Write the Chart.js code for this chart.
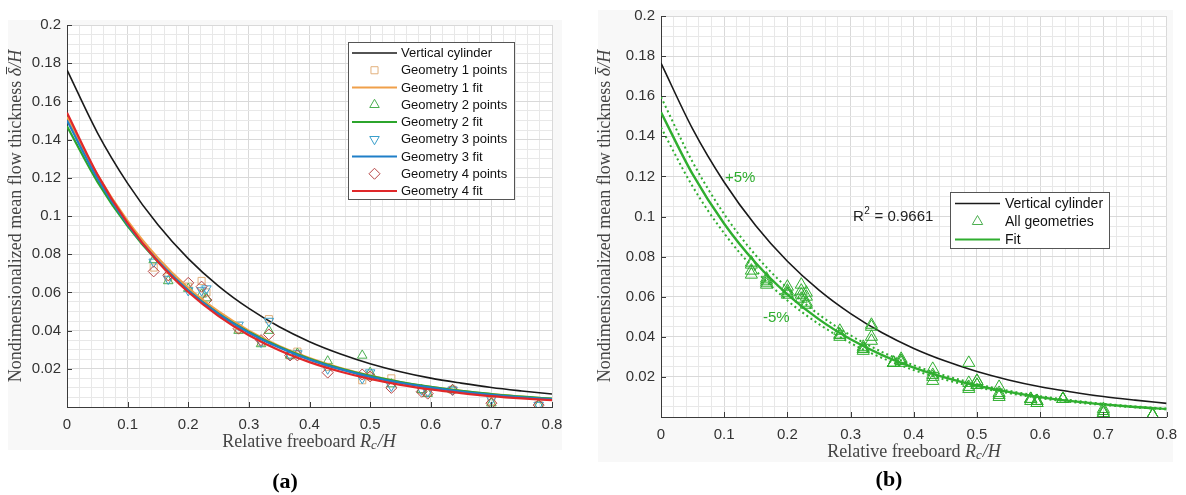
<!DOCTYPE html>
<html>
<head>
<meta charset="utf-8">
<script src="https://cdn.jsdelivr.net/npm/chart.js@4.4.0/dist/chart.umd.min.js"></script>
<style>
html, body { margin: 0; padding: 0; background: #fff; }
#wrap { position: relative; width: 1186px; height: 495px; overflow: hidden; }
#chartA { position: absolute; left: 0; top: 0; }
#chartB { position: absolute; left: 590px; top: 0; }
</style>
</head>
<body>
<div id="wrap">
  <canvas id="chartA" width="590" height="495"></canvas>
  <canvas id="chartB" width="596" height="495"></canvas>
</div>
<script>
// relative freeboard Rc/H used for the curves
const freeboard = [0, 0.05, 0.1, 0.15, 0.2, 0.25, 0.3, 0.35, 0.4, 0.45, 0.5, 0.55, 0.6, 0.65, 0.7, 0.75, 0.8];
const cylinder  = [0.1765, 0.1437, 0.1171, 0.0954, 0.0777, 0.0633, 0.0516, 0.0420, 0.0342, 0.0279, 0.0227, 0.0185, 0.0151, 0.0125, 0.0102, 0.0084, 0.0068];
const fitGeo1   = [0.1520, 0.1217, 0.0974, 0.0780, 0.0624, 0.0500, 0.0400, 0.0320, 0.0256, 0.0205, 0.0164, 0.0131, 0.0105, 0.0084, 0.0067, 0.0054, 0.0043];
const fitGeo2   = [0.1470, 0.1180, 0.0947, 0.0760, 0.0610, 0.0489, 0.0393, 0.0315, 0.0253, 0.0203, 0.0163, 0.0131, 0.0105, 0.0084, 0.0068, 0.0054, 0.0044];
const fitGeo3   = [0.1500, 0.1198, 0.0956, 0.0764, 0.0610, 0.0487, 0.0389, 0.0311, 0.0248, 0.0198, 0.0158, 0.0126, 0.0101, 0.0081, 0.0064, 0.0051, 0.0041];
const fitGeo4   = [0.1540, 0.1218, 0.0963, 0.0761, 0.0602, 0.0476, 0.0376, 0.0297, 0.0235, 0.0186, 0.0147, 0.0116, 0.0092, 0.0073, 0.0057, 0.0045, 0.0036];
const fitAll      = [0.1520, 0.1211, 0.0964, 0.0768, 0.0612, 0.0487, 0.0388, 0.0309, 0.0246, 0.0196, 0.0156, 0.0125, 0.0099, 0.0079, 0.0063, 0.0050, 0.0040];
const fitAllUpper = [0.1596, 0.1272, 0.1012, 0.0806, 0.0643, 0.0511, 0.0407, 0.0324, 0.0258, 0.0206, 0.0164, 0.0131, 0.0104, 0.0083, 0.0066, 0.0053, 0.0042];
const fitAllLower = [0.1444, 0.1150, 0.0916, 0.0730, 0.0581, 0.0463, 0.0369, 0.0294, 0.0234, 0.0186, 0.0148, 0.0119, 0.0094, 0.0075, 0.0060, 0.0048, 0.0038];

// measured points
const testX  = [0.143, 0.167, 0.2, 0.222, 0.23, 0.283, 0.32, 0.333, 0.368, 0.38, 0.43, 0.487, 0.5, 0.535, 0.585, 0.595, 0.636, 0.70, 0.778];
const geo1Y  = [0.073, 0.068, 0.063, 0.066, 0.060, 0.041, 0.034, 0.046, 0.027, 0.029, 0.021, 0.014, 0.016, 0.015, 0.009, 0.008, 0.009, 0.003, 0.001];
const geo2Y  = [0.077, 0.066, 0.062, 0.059, 0.057, 0.040, 0.033, 0.040, 0.027, 0.028, 0.024, 0.027, 0.018, 0.012, 0.009, 0.007, 0.009, 0.002, 0.001];
const geo3Y  = [0.076, 0.067, 0.061, 0.061, 0.062, 0.043, 0.034, 0.045, 0.027, 0.028, 0.020, 0.015, 0.018, 0.011, 0.009, 0.008, 0.009, 0.004, 0.001];
const geo4Y  = [0.071, 0.069, 0.065, 0.063, 0.056, 0.041, 0.035, 0.038, 0.027, 0.027, 0.018, 0.017, 0.016, 0.010, 0.008, 0.007, 0.009, 0.002, 0.001];

const xTickLabels = [0, 0.1, 0.2, 0.3, 0.4, 0.5, 0.6, 0.7, 0.8];
const yTickLabels = [0.02, 0.04, 0.06, 0.08, 0.1, 0.12, 0.14, 0.16, 0.18, 0.2];
const rSquared = '0.9661';

const col = {
    black: '#1a1a1a',
    orange: '#f0a04a', orangeMark: '#e2b07c',
    green: '#2ca52c', greenMark: '#4caf50',
    blue: '#1f7fc8', blueMark: '#3a9fcb',
    red: '#e0282a', redMark: '#b84545',
    fitB: '#2fae2f'
}

const pts = (xs, ys) => xs.map((x, i) => ({ x: x, y: ys[i] }))

function labelFor(v, list) {
    const hit = list.find(t => Math.abs(t - v) < 1e-6)
    return hit === undefined ? '' : String(hit)
}

function gridColor(list) {
    return ctx => (ctx.tick && list.some(t => Math.abs(t - ctx.tick.value) < 1e-6)) ? '#d9d9d9' : '#e8e8e8'
}

function makeScales(yWidth, xHeight) {
    const tickFont = { family: 'Liberation Sans, Arial, sans-serif', size: 15 }
    return {
        x: {
            type: 'linear', min: 0, max: 0.8,
            afterFit: s => { s.height = xHeight },
            ticks: { stepSize: 0.02, autoSkip: false, maxRotation: 0, padding: 9, color: '#333', font: tickFont,
                callback: v => labelFor(v, xTickLabels) },
            grid: { color: gridColor(xTickLabels), drawTicks: false, lineWidth: 1 },
            border: { color: '#3a3a3a', width: 1 }
        },
        y: {
            type: 'linear', min: 0, max: 0.2,
            afterFit: s => { s.width = yWidth },
            ticks: { stepSize: 0.005, autoSkip: false, padding: 6, color: '#333', font: tickFont,
                callback: v => labelFor(v, yTickLabels) },
            grid: { color: gridColor(yTickLabels), drawTicks: false, lineWidth: 1 },
            border: { color: '#3a3a3a', width: 1 }
        }
    }
}

function drawMarker(c, kind, x, y, r, color) {
    c.beginPath()
    if (kind === 'rect') {
        const s = r * Math.SQRT1_2
        c.rect(x - s, y - s, 2 * s, 2 * s)
    } else if (kind === 'triangle') {
        c.moveTo(x, y - r); c.lineTo(x + r * 0.866, y + r / 2); c.lineTo(x - r * 0.866, y + r / 2); c.closePath()
    } else if (kind === 'triangleDown') {
        c.moveTo(x, y + r); c.lineTo(x + r * 0.866, y - r / 2); c.lineTo(x - r * 0.866, y - r / 2); c.closePath()
    } else if (kind === 'rectRot') {
        c.moveTo(x, y - r); c.lineTo(x + r, y); c.lineTo(x, y + r); c.lineTo(x - r, y); c.closePath()
    }
    c.strokeStyle = color
    c.lineWidth = 1
    c.stroke()
}

// text made of pieces (normal / italic / subscript)
function drawPieces(c, pieces, cx, cy) {
    let total = 0
    pieces.forEach(p => { c.font = p.font; p.w = c.measureText(p.t).width; total += p.w + (p.gap || 0) })
    let x = cx - total / 2
    c.textBaseline = 'middle'
    c.textAlign = 'left'
    pieces.forEach(p => {
        c.font = p.font
        c.fillText(p.t, x, cy + (p.dy || 0))
        if (p.bar) {
            c.beginPath()
            c.lineWidth = 1
            c.strokeStyle = c.fillStyle
            c.moveTo(x + 2, cy - 9.5); c.lineTo(x + p.w + 1, cy - 9.5)
            c.stroke()
        }
        x += p.w + (p.gap || 0)
    })
}

function axisTitles(c, cfg) {
    const serif = 'Liberation Serif, Times New Roman, serif'
    const fs = cfg.titleSize
    c.save()
    c.fillStyle = '#444'
    drawPieces(c, [
        { t: 'Relative freeboard ', font: fs + 'px ' + serif },
        { t: 'R', font: 'italic ' + fs + 'px ' + serif },
        { t: 'c', font: 'italic ' + Math.round(fs * 0.72) + 'px ' + serif, dy: 4, gap: 1 },
        { t: '/H', font: 'italic ' + fs + 'px ' + serif }
    ], cfg.xTitle[0], cfg.xTitle[1])
    c.translate(cfg.yTitle[0], cfg.yTitle[1])
    c.rotate(-Math.PI / 2)
    drawPieces(c, [
        { t: 'Nondimensionalized mean flow thickness ', font: fs + 'px ' + serif },
        { t: 'δ', font: 'italic ' + fs + 'px ' + serif, bar: true },
        { t: '/H', font: 'italic ' + fs + 'px ' + serif }
    ], 0, 0)
    c.restore()
}

function drawLegend(c, lg) {
    c.save()
    c.fillStyle = '#fff'
    c.fillRect(lg.x, lg.y, lg.w, lg.h)
    c.strokeStyle = '#555'
    c.lineWidth = 1
    c.strokeRect(lg.x + 0.5, lg.y + 0.5, lg.w, lg.h)
    c.font = lg.font + 'px Liberation Sans, Arial, sans-serif'
    c.textBaseline = 'middle'
    c.textAlign = 'left'
    lg.items.forEach((it, i) => {
        const y = lg.first + i * lg.rowH
        if (it.line) {
            c.beginPath()
            c.strokeStyle = it.line
            c.lineWidth = it.width || 2
            c.moveTo(lg.x0, y); c.lineTo(lg.x1, y)
            c.stroke()
        } else {
            drawMarker(c, it.mark, (lg.x0 + lg.x1) / 2, y, it.r || 5, it.color)
        }
        c.fillStyle = '#111'
        c.fillText(it.label, lg.textX, y + 0.5)
    })
    c.restore()
}

function inwardTicks(chart) {
    const c = chart.ctx, a = chart.chartArea
    const sx = chart.scales.x, sy = chart.scales.y
    c.save()
    c.strokeStyle = '#3a3a3a'
    c.lineWidth = 1
    c.beginPath()
    xTickLabels.forEach(v => { const px = Math.round(sx.getPixelForValue(v)) + 0.5; c.moveTo(px, a.bottom); c.lineTo(px, a.bottom - 5) })
    yTickLabels.forEach(v => { const py = Math.round(sy.getPixelForValue(v)) + 0.5; c.moveTo(a.left, py); c.lineTo(a.left + 5, py) })
    c.stroke()
    c.restore()
}

function decor(cfg) {
    return {
        id: 'decor',
        beforeDraw(chart) {
            const c = chart.ctx, a = chart.chartArea
            c.save()
            c.fillStyle = '#f8f8f8'
            c.fillRect(cfg.bg[0], cfg.bg[1], cfg.bg[2], cfg.bg[3])
            c.fillStyle = '#fff'
            c.fillRect(a.left, a.top, a.right - a.left, a.bottom - a.top)
            c.restore()
        },
        afterDraw(chart) {
            const c = chart.ctx
            inwardTicks(chart)
            axisTitles(c, cfg)
            drawLegend(c, cfg.legend)
            if (cfg.extra) cfg.extra(c)
            c.save()
            c.fillStyle = '#000'
            c.font = 'bold 22px Liberation Serif, Times New Roman, serif'
            c.textAlign = 'center'
            c.textBaseline = 'middle'
            c.fillText(cfg.tag[0], cfg.tag[1], cfg.tag[2])
            c.restore()
        }
    }
}

const lineSet = (label, xs, ys, color, width, order, dash) => ({
    label: label, data: pts(xs, ys), showLine: true, borderColor: color, borderWidth: width,
    borderDash: dash || [], pointRadius: 0, cubicInterpolationMode: 'monotone', fill: false, order: order
})
const pointSet = (label, xs, ys, color, style, r, rot, order) => ({
    label: label, data: pts(xs, ys), showLine: false, pointStyle: style, pointRadius: r, pointRotation: rot,
    borderColor: color, backgroundColor: 'rgba(0,0,0,0)', borderWidth: 1, order: order
})

const baseOptions = (yWidth, xHeight, padding) => ({
    responsive: false,
    animation: false,
    events: [],
    layout: { padding: padding },
    plugins: { legend: { display: false }, tooltip: { enabled: false } },
    scales: makeScales(yWidth, xHeight)
})

// panel (a)
new Chart(document.getElementById('chartA'), {
    type: 'scatter',
    data: {
        datasets: [
            lineSet('Vertical cylinder', freeboard, cylinder, col.black, 1.6, 10),
            pointSet('Geometry 1 points', testX, geo1Y, col.orangeMark, 'rect', 5, 0, 9),
            pointSet('Geometry 2 points', testX, geo2Y, col.greenMark, 'triangle', 5.5, 0, 8),
            pointSet('Geometry 3 points', testX, geo3Y, col.blueMark, 'triangle', 5.5, 180, 7),
            pointSet('Geometry 4 points', testX, geo4Y, col.redMark, 'rectRot', 5.5, 0, 6),
            lineSet('Geometry 1 fit', freeboard, fitGeo1, col.orange, 2.2, 4),
            lineSet('Geometry 2 fit', freeboard, fitGeo2, col.green, 2.2, 3),
            lineSet('Geometry 3 fit', freeboard, fitGeo3, col.blue, 2.2, 2),
            lineSet('Geometry 4 fit', freeboard, fitGeo4, col.red, 2.2, 1)
        ]
    },
    options: baseOptions(67, 88, { left: 0, right: 38, top: 25, bottom: 0 }),
    plugins: [decor({
        bg: [8, 20, 554, 430],
        titleSize: 18,
        xTitle: [309, 442],
        yTitle: [16, 216],
        tag: ['(a)', 285, 482],
        legend: {
            x: 348, y: 42, w: 166, h: 157, first: 53, rowH: 17.25, x0: 352, x1: 397, textX: 401, font: 13,
            items: [
                { label: 'Vertical cylinder', line: col.black, width: 1.6 },
                { label: 'Geometry 1 points', mark: 'rect', color: col.orangeMark, r: 5 },
                { label: 'Geometry 1 fit', line: col.orange },
                { label: 'Geometry 2 points', mark: 'triangle', color: col.greenMark, r: 5.5 },
                { label: 'Geometry 2 fit', line: col.green },
                { label: 'Geometry 3 points', mark: 'triangleDown', color: col.blueMark, r: 5.5 },
                { label: 'Geometry 3 fit', line: col.blue },
                { label: 'Geometry 4 points', mark: 'rectRot', color: col.redMark, r: 5.5 },
                { label: 'Geometry 4 fit', line: col.red }
            ]
        }
    })]
})

// panel (b)
const allX = testX.concat(testX, testX, testX)
const allY = geo1Y.concat(geo2Y, geo3Y, geo4Y)

new Chart(document.getElementById('chartB'), {
    type: 'scatter',
    data: {
        datasets: [
            lineSet('Vertical cylinder', freeboard, cylinder, col.black, 1.6, 6),
            pointSet('All geometries', allX, allY, col.fitB, 'triangle', 7, 0, 5),
            lineSet('+5%', freeboard, fitAllUpper, col.fitB, 2, 3, [2, 3]),
            lineSet('-5%', freeboard, fitAllLower, col.fitB, 2, 2, [2, 3]),
            lineSet('Fit', freeboard, fitAll, col.fitB, 2.4, 1)
        ]
    },
    options: baseOptions(71, 78, { left: 0, right: 18, top: 16, bottom: 0 }),
    plugins: [decor({
        bg: [8, 10, 575, 452],
        titleSize: 18,
        xTitle: [324, 452],
        yTitle: [15, 216],
        tag: ['(b)', 299, 480],
        legend: {
            x: 360, y: 192, w: 159, h: 56, first: 203.5, rowH: 18, x0: 365, x1: 410, textX: 415, font: 14,
            items: [
                { label: 'Vertical cylinder', line: col.black, width: 1.6 },
                { label: 'All geometries', mark: 'triangle', color: col.greenMark, r: 6 },
                { label: 'Fit', line: col.fitB }
            ]
        },
        extra: c => {
            c.save()
            c.textBaseline = 'middle'
            c.textAlign = 'left'
            c.fillStyle = '#222'
            c.font = '15px Liberation Sans, Arial, sans-serif'
            let x = 263
            c.fillText('R', x, 217)
            x += c.measureText('R').width
            c.font = '10px Liberation Sans, Arial, sans-serif'
            c.fillText('2', x + 0.5, 211)
            x += c.measureText('2').width + 1
            c.font = '15px Liberation Sans, Arial, sans-serif'
            c.fillText(' = ' + rSquared, x, 217)
            c.fillStyle = col.fitB
            c.fillText('+5%', 135, 178)
            c.fillText('-5%', 173, 318)
            c.restore()
        }
    })]
})
</script>
</body>
</html>
